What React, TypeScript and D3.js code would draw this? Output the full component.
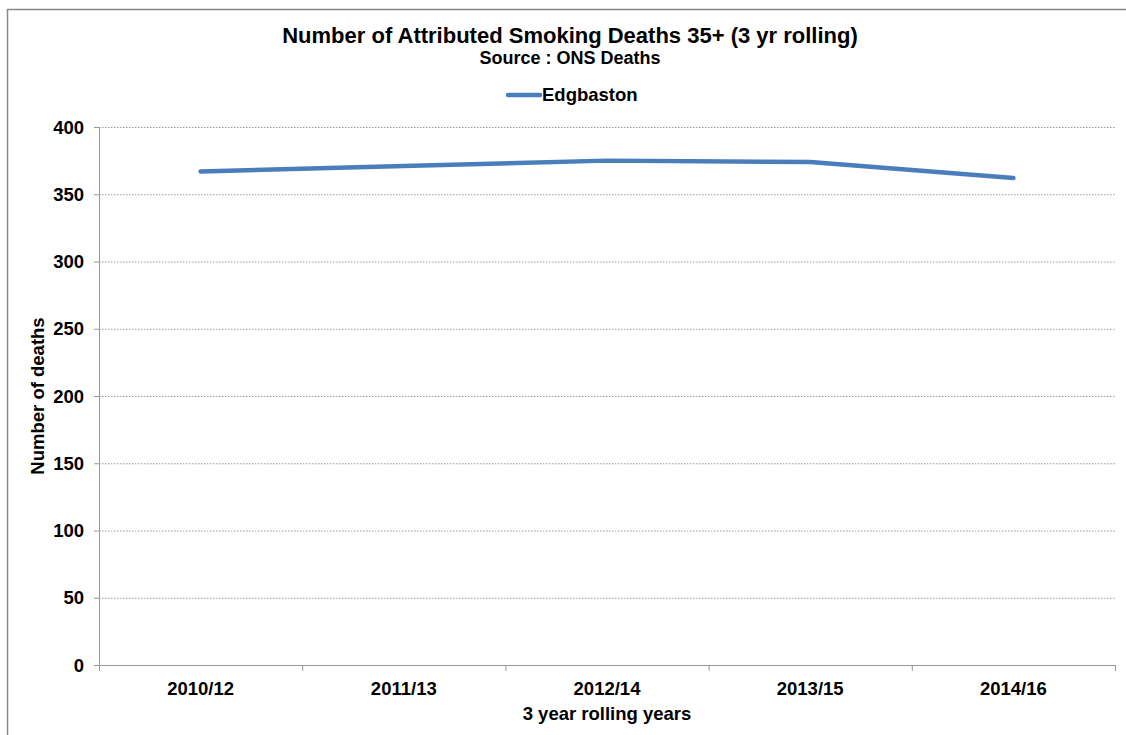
import React from "react";
import * as d3 from "d3";

const categories = ["2010/12", "2011/13", "2012/14", "2013/15", "2014/16"];
const seriesName = "Edgbaston";
const values = [367, 371, 375, 374, 362];
const yTicks = [0, 50, 100, 150, 200, 250, 300, 350, 400];

export default function App() {
  const W = 1126, H = 735;
  const left = 99, right = 1115, top = 127, bottom = 665;
  const x = d3.scaleBand<string>().domain(categories).range([left, right]);
  const y = d3.scaleLinear().domain([0, 400]).range([bottom, top]);
  const line = d3.line<number>()
    .x((_, i) => (x(categories[i]) as number) + x.bandwidth() / 2)
    .y((d) => y(d));
  const font = "'Liberation Sans', Arial, sans-serif";
  const tickEdges = categories.map((c) => x(c) as number).concat([right]);
  return (
    <svg width={W} height={H} style={{ position: "absolute", left: 0, top: 0 }} fontFamily={font}>
      <rect x={0} y={0} width={W} height={H} fill="#fff" />
      <rect x={7.5} y={9.5} width={1130} height={740} fill="#fff" stroke="#888" strokeWidth={1.5} />
      <text x={570} y={43} textAnchor="middle" fontSize={22} fontWeight="bold">Number of Attributed Smoking Deaths 35+ (3 yr rolling)</text>
      <text x={570} y={64} textAnchor="middle" fontSize={18} fontWeight="bold">Source : ONS Deaths</text>
      <line x1={508} x2={540} y1={95} y2={95} stroke="#4a7ebb" strokeWidth={4.5} strokeLinecap="round" />
      <text x={542} y={101} fontSize={18.5} fontWeight="bold">{seriesName}</text>
      {yTicks.map((t) => (
        <g key={t}>
          {t > 0 && <line x1={left} x2={right} y1={y(t) + 0.5} y2={y(t) + 0.5} stroke="#999" strokeDasharray="1.5,1.5" strokeWidth={1} />}
          <line x1={left - 5} x2={left} y1={y(t) + 0.5} y2={y(t) + 0.5} stroke="#999" />
          <text x={84} y={y(t) + 6.5} textAnchor="end" fontSize={18.5} fontWeight="bold">{t}</text>
        </g>
      ))}
      <line x1={left + 0.5} x2={left + 0.5} y1={top} y2={bottom} stroke="#999" />
      <line x1={left} x2={right} y1={bottom + 0.5} y2={bottom + 0.5} stroke="#999" />
      {tickEdges.map((e, i) => (
        <line key={i} x1={e + 0.5} x2={e + 0.5} y1={bottom} y2={bottom + 6} stroke="#999" />
      ))}
      {categories.map((c) => (
        <text key={c} x={(x(c) as number) + x.bandwidth() / 2} y={695} textAnchor="middle" fontSize={18.5} fontWeight="bold">{c}</text>
      ))}
      <text x={607} y={720} textAnchor="middle" fontSize={18.5} fontWeight="bold">3 year rolling years</text>
      <text transform="translate(44,396) rotate(-90)" textAnchor="middle" fontSize={18.5} fontWeight="bold">Number of deaths</text>
      <path d={line(values) || ""} fill="none" stroke="#4a7ebb" strokeWidth={4.5} strokeLinecap="round" strokeLinejoin="round" />
    </svg>
  );
}
